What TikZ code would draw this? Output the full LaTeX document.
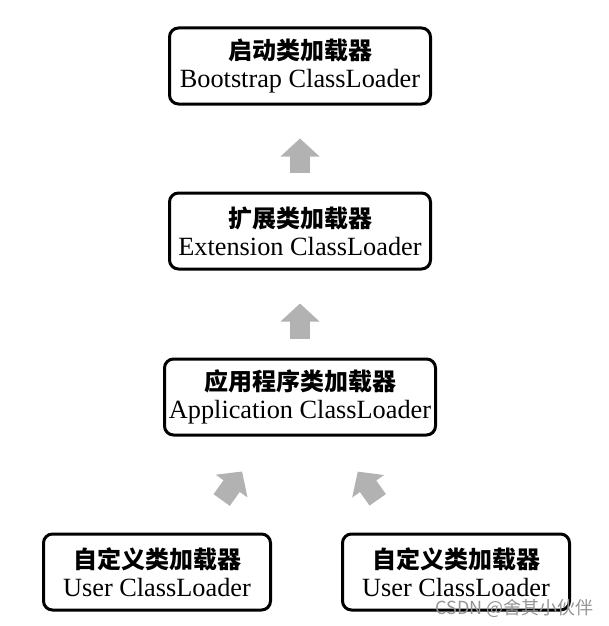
\documentclass[tikz,border=0pt]{standalone}
\usepackage{fontspec}
\setmainfont{Liberation Serif}
\newfontfamily\cjk{Noto Sans CJK SC}
\usepackage{xcolor}
\usepackage{tikz}
\usetikzlibrary{arrows.meta,calc}
\definecolor{dgray}{HTML}{B2B2B2}
\definecolor{dmarkc}{HTML}{959595}
\newcommand{\zh}[1]{{\cjk\bfseries\fontsize{24}{27}\selectfont #1}}
\tikzset{
  dbox/.style={draw=black, line width=3pt, rounded corners=9pt, fill=white,
               align=center, minimum height=76pt, inner sep=0pt,
               font=\fontsize{26.3}{28}\selectfont},
  dup/.style={dgray, line width=20pt, -{Triangle[width=38pt,length=18pt]},
              shorten <=19pt, shorten >=33pt},
  ddiag/.style={dgray, line width=20pt, -{Triangle[width=38pt,length=18pt]},
                shorten <=40pt, shorten >=43pt},
  dmark/.style={dmarkc, font=\cjk\fontsize{18}{20}\selectfont, anchor=base east,
                inner sep=0pt},
}

\begin{document}
\begin{tikzpicture}[x=1pt,y=-1pt]
  \useasboundingbox (0,0) rectangle (609,626);

  % caixas
  \node[dbox, minimum width=261pt] (boot) at (300,66)
    {\zh{启动类加载器}\\Bootstrap ClassLoader};
  \node[dbox, minimum width=261pt] (ext) at (300,231)
    {\zh{扩展类加载器}\\Extension ClassLoader};
  \node[dbox, minimum width=271pt] (app) at (300,397)
    {\zh{应用程序类加载器}\\Application ClassLoader};
  \node[dbox, minimum width=227pt] (userL) at (157,572)
    {\zh{自定义类加载器}\\User ClassLoader};
  \node[dbox, minimum width=227pt] (userR) at (456,572)
    {\zh{自定义类加载器}\\User ClassLoader};

  % setas
  \draw[dup] (ext.north) -- (boot.south);
  \draw[dup] (app.north) -- (ext.south);
  \draw[ddiag] ($(userL.north west)!0.68!(userL.north east)$)
            -- ($(app.south west)!0.38!(app.south east)$);
  \draw[ddiag] ($(userR.north west)!0.26!(userR.north east)$)
            -- ($(app.south west)!0.62!(app.south east)$);

  % marca
  \node[dmark] (wm) at (594,614) {CSDN @舍其小伙伴};

\end{tikzpicture}
\end{document}
